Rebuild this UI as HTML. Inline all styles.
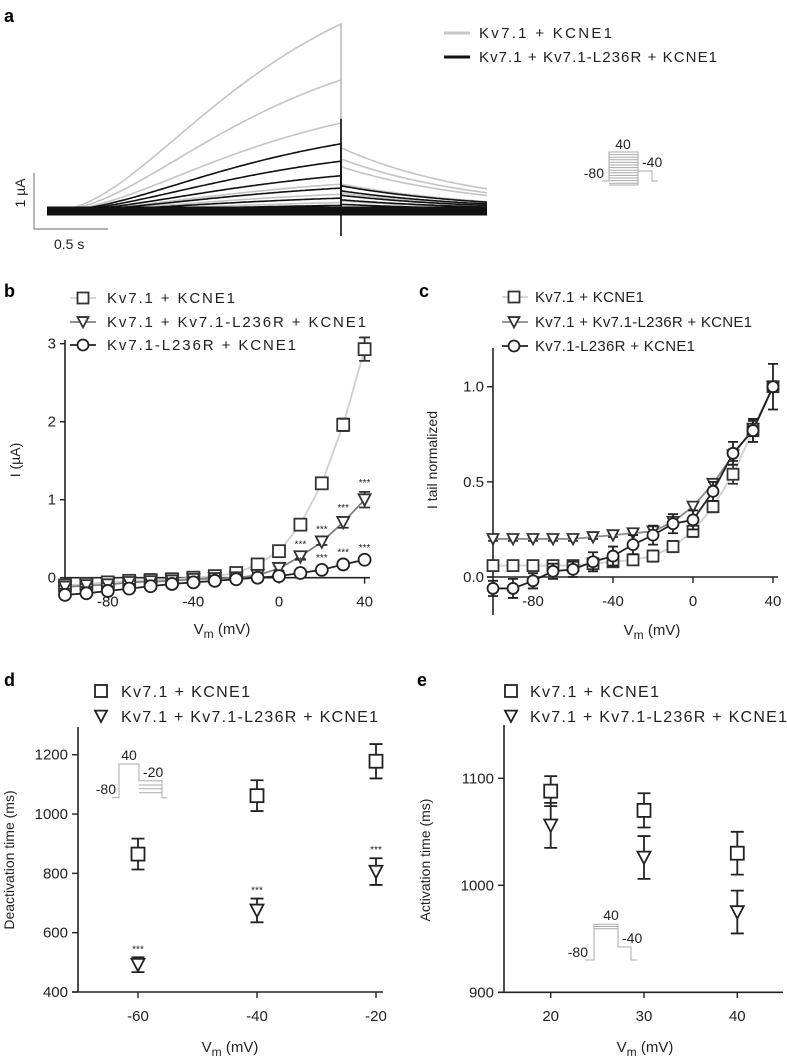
<!DOCTYPE html>
<html><head><meta charset="utf-8"><style>
html,body{margin:0;padding:0;background:#fff;}
svg{display:block;font-family:"Liberation Sans",sans-serif;}
</style></head><body>
<svg id="fig" width="787" height="1059" viewBox="0 0 787 1059" xmlns="http://www.w3.org/2000/svg">
<rect width="787" height="1059" fill="#fff"/>
<g font-weight="bold" font-size="18" fill="#000">
<text x="4" y="22">a</text>
<text x="4" y="297">b</text>
<text x="419" y="297">c</text>
<text x="4" y="686">d</text>
<text x="417" y="686">e</text>
</g>
<g font-size="15" fill="#222">
<line x1="444" y1="33" x2="470" y2="33" stroke="#c8c8c8" stroke-width="3"/>
<text x="479" y="38" textLength="133">Kv7.1 + KCNE1</text>
<line x1="444" y1="57" x2="470" y2="57" stroke="#111" stroke-width="3"/>
<text x="479" y="62" textLength="238">Kv7.1 + Kv7.1-L236R + KCNE1</text>
</g>
<g stroke="#888" stroke-width="1.2" fill="none">
<polyline points="34,173 34,229 108,229"/>
</g>
<text x="25" y="193" font-size="14" fill="#222" transform="rotate(-90 25 193)" text-anchor="middle">1 µA</text>
<text x="54" y="249" font-size="14" fill="#222">0.5 s</text>
<g id="protoA" stroke="#aaa" stroke-width="1" fill="none"></g>
<g font-size="14" fill="#222">
<text x="623" y="149" text-anchor="middle">40</text>
<text x="604" y="178" text-anchor="end">-80</text>
<text x="642" y="167">-40</text>
</g>
<g id="traces"></g>
<g id="pb"></g>
<g id="pc"></g>
<g id="pd"></g>
<g id="pe"></g>
</svg>
<script>
// ---------- data ----------
const traceGrayPeak = [3.34, 2.34, 1.57, 0.48, 0.30, 0.15, 0.06];
const traceGrayTail = [1.13, 0.93, 0.79, 0.48, 0.32, 0.18, 0.08];
const traceBlackPeak = [1.20, 0.89, 0.63, 0.41, 0.23, 0.10, 0.03];
const traceBlackTail = [0.45, 0.36, 0.28, 0.20, 0.12, 0.06, 0.02];

const ivVolt = [-100,-90,-80,-70,-60,-50,-40,-30,-20,-10,0,10,20,30,40];
const ivWT  = [-0.10,-0.08,-0.06,-0.04,-0.03,-0.02,0.00,0.02,0.06,0.17,0.34,0.68,1.21,1.96,2.93];
const ivWTErr = [0.02,0.02,0.02,0.02,0.02,0.02,0.02,0.02,0.02,0.03,0.04,0.05,0.05,0.08,0.15];
const ivHet = [-0.12,-0.10,-0.09,-0.06,-0.05,-0.04,-0.02,-0.01,0.00,0.03,0.12,0.27,0.46,0.71,1.00];
const ivHetErr = [0.02,0.02,0.02,0.02,0.02,0.02,0.02,0.02,0.02,0.02,0.03,0.04,0.04,0.07,0.10];
const ivMut = [-0.22,-0.20,-0.17,-0.14,-0.11,-0.08,-0.06,-0.04,-0.02,0.00,0.02,0.06,0.10,0.17,0.23];
const ivMutErr = [0.02,0.02,0.02,0.02,0.02,0.02,0.02,0.02,0.02,0.02,0.02,0.02,0.02,0.02,0.03];
const ivStarVolt = [10,20,30,40];
const ivTicksX = [-80,-40,0,40];
const ivTicksY = [0,1,2,3];

const tailWT  = [0.06,0.06,0.06,0.06,0.06,0.07,0.08,0.09,0.11,0.16,0.24,0.37,0.54,0.77,1.00];
const tailWTErr = [0.02,0.02,0.02,0.02,0.02,0.02,0.02,0.02,0.03,0.03,0.03,0.03,0.05,0.06,0.02];
const tailHet = [0.20,0.20,0.20,0.20,0.20,0.21,0.22,0.23,0.24,0.29,0.37,0.49,0.64,0.78,1.00];
const tailHetErr = [0.01,0.01,0.01,0.01,0.01,0.01,0.01,0.01,0.02,0.02,0.02,0.02,0.03,0.04,0.02];
const tailMut = [-0.06,-0.06,-0.02,0.03,0.04,0.08,0.11,0.17,0.22,0.28,0.30,0.45,0.65,0.77,1.00];
const tailMutErr = [0.04,0.05,0.04,0.04,0.04,0.05,0.05,0.05,0.05,0.05,0.05,0.05,0.06,0.06,0.12];
const tailTicksY = [0.0,0.5,1.0];
const tailTickLabels = ["0.0","0.5","1.0"];

const deactVolt = [-60,-40,-20];
const deactWT = [865,1062,1178];
const deactWTErr = [52,52,58];
const deactHet = [492,675,806];
const deactHetErr = [25,40,45];
const deactTicksY = [400,600,800,1000,1200];

const actVolt = [20,30,40];
const actWT = [1088,1070,1030];
const actWTErr = [14,16,20];
const actHet = [1056,1026,975];
const actHetErr = [21,20,20];
const actTicksY = [900,1000,1100];

// ---------- helpers ----------
const NS='http://www.w3.org/2000/svg';
function mk(parent, tag, attrs, name){
  const el=document.createElementNS(NS,tag);
  for(const k in attrs) el.setAttribute(k,attrs[k]);
  
  
  parent.appendChild(el);
  return el;
}
function txt(parent, x, y, s, size, anchor, name, extra){
  const a = {x:x,y:y,'font-size':size,'text-anchor':anchor||'start',fill:'#222'};
  if(extra) for(const k in extra) a[k]=extra[k];
  const t = mk(parent,'text',a,name);
  t.textContent = s;
  return t;
}
function marker(g, type, x, y, s, color, name){
  if(type==='sq') return mk(g,'rect',{x:x-s/2,y:y-s/2,width:s,height:s,fill:'#fff',stroke:color,'stroke-width':1.8},name);
  if(type==='tri') return mk(g,'polygon',{points:`${x-s/2},${y-s*0.45} ${x+s/2},${y-s*0.45} ${x},${y+s*0.5}`,fill:'#fff',stroke:color,'stroke-width':1.8},name);
  return mk(g,'circle',{cx:x,cy:y,r:s/2,fill:'#fff',stroke:color,'stroke-width':1.8},name);
}
function errbar(g, x, y1, y2, cap, color, name){
  const d=`M${x},${y1}V${y2}M${x-cap/2},${y1}H${x+cap/2}M${x-cap/2},${y2}H${x+cap/2}`;
  return mk(g,'path',{d:d,stroke:color,'stroke-width':1.8,fill:'none'},name);
}
function vmLabel(g, x, y, size, name){
  const t = mk(g,'text',{x:x,y:y,'font-size':size,'text-anchor':'middle',fill:'#222'},name);
  t.innerHTML = 'V<tspan font-size="'+(size*0.8)+'" dy="4">m</tspan><tspan dy="-4"> (mV)</tspan>';
}

// ---------- panel a ----------
(function(){
  const g=document.getElementById('traces');
  const base=211, x0=47, xs=341, xe=487, pxA=56;
  function shape(t){ return Math.pow(1-Math.exp(-2.0*t),2.4)/Math.pow(1-Math.exp(-2.0),2.4); }
  function trace(peak, tail, color, w, name){
    let pts=[];
    for(let x=x0;x<=xs;x+=2){ pts.push(x+','+(base-peak*pxA*shape((x-x0)/(xs-x0))).toFixed(1)); }
    pts.push(xs+','+(base-tail*pxA).toFixed(1));
    for(let x=xs;x<=xe;x+=2){ pts.push(x+','+(base-tail*pxA*Math.exp(-1.05*(x-xs)/(xe-xs))).toFixed(1)); }
    mk(g,'polyline',{points:pts.join(' '),fill:'none',stroke:color,'stroke-width':w},name);
  }
  traceGrayPeak.forEach((p,i)=>trace(p,traceGrayTail[i],'#c4c4c4',1.6,'trace-wt-'+i));
  mk(g,'line',{x1:xs,y1:base-traceGrayPeak[0]*pxA,x2:xs,y2:base,stroke:'#c4c4c4','stroke-width':1.6},'step-artifact-wt');
  mk(g,'polyline',{points:`${x0},${base} ${xe},${base}`,stroke:'#111','stroke-width':9,fill:'none'},'noise-band');
  traceBlackPeak.forEach((p,i)=>trace(p,traceBlackTail[i],'#111',1.6,'trace-mut-'+i));
  mk(g,'line',{x1:xs,y1:base-traceBlackPeak[0]*pxA-25,x2:xs,y2:236,stroke:'#111','stroke-width':1.6},'step-artifact-mut');
  const pa=document.getElementById('protoA');
  for(let y=152;y<=185;y+=2.6){ mk(pa,'line',{x1:609,y1:y,x2:638,y2:y},'protocol-a-step'); }
  mk(pa,'polyline',{points:'602,181 609,181 609,152 638,152 638,185 609,185'},'protocol-a-box');
  mk(pa,'polyline',{points:'638,171 652,171 652,181 658,181'},'protocol-a-tail');
})();

// ---------- panel b ----------
(function(){
  const g=document.getElementById('pb');
  const X=v=>279+v*2.14, Y=i=>577.7-i*78;
  mk(g,'line',{x1:65,y1:340,x2:65,y2:590,stroke:'#222','stroke-width':1.6},'y-axis-b');
  mk(g,'line',{x1:65,y1:Y(0),x2:370,y2:Y(0),stroke:'#222','stroke-width':1.6},'x-axis-b');
  ivTicksY.forEach(t=>{ mk(g,'line',{x1:60,y1:Y(t),x2:65,y2:Y(t),stroke:'#222','stroke-width':1.4},'y-tick-b'); txt(g,56,Y(t)+5,String(t),15,'end','y-tick-label-b'); });
  ivTicksX.forEach(t=>{ mk(g,'line',{x1:X(t),y1:Y(0),x2:X(t),y2:Y(0)+6,stroke:'#222','stroke-width':1.4},'x-tick-b'); txt(g,X(t),Y(0)+29,String(t),15,'middle','x-tick-label-b'); });
  txt(g,20,460,'I (µA)',14,'middle','y-axis-title-b',{transform:'rotate(-90 20 460)'});
  vmLabel(g,222,634,15,'x-axis-title-b');
  const series=[[ivWT,ivWTErr,'sq','#cfcfcf','#333','wt'],[ivHet,ivHetErr,'tri','#808080','#333','het'],[ivMut,ivMutErr,'circ','#222','#222','mut']];
  series.forEach(s=>{
    mk(g,'polyline',{points:ivVolt.map((v,i)=>X(v)+','+Y(s[0][i])).join(' '),fill:'none',stroke:s[3],'stroke-width':1.8},'iv-line-'+s[5]);
  });
  series.forEach(s=>{
    ivVolt.forEach((v,i)=>{
      errbar(g,X(v),Y(s[0][i]+s[1][i]),Y(s[0][i]-s[1][i]),11,s[4],'iv-err-'+s[5]);
      marker(g,s[2],X(v),Y(s[0][i]),12,s[4],'iv-point-'+s[5]);
    });
  });
  ivStarVolt.forEach(v=>{
    const i=ivVolt.indexOf(v);
    txt(g,X(v),Y(ivHet[i]+ivHetErr[i])-6,'***',10,'middle','sig-stars-het');
    txt(g,X(v),Y(ivMut[i])-9,'***',10,'middle','sig-stars-mut');
  });
  const ly=[298,322,345], lab=['Kv7.1 + KCNE1','Kv7.1 + Kv7.1-L236R + KCNE1','Kv7.1-L236R + KCNE1'], lw=[128,259,189];
  series.forEach((s,k)=>{
    mk(g,'line',{x1:70,y1:ly[k],x2:96,y2:ly[k],stroke:s[3],'stroke-width':1.8},'legend-line-b');
    marker(g,s[2],83,ly[k],11,s[4],'legend-marker-b');
    txt(g,107,ly[k]+5,lab[k],15,'start','legend-text-b',{textLength:lw[k]});
  });
})();

// ---------- panel c ----------
(function(){
  const g=document.getElementById('pc');
  const X=v=>693+v*2, Y=v=>577-v*190.3;
  mk(g,'line',{x1:493,y1:348,x2:493,y2:615,stroke:'#222','stroke-width':1.6},'y-axis-c');
  mk(g,'line',{x1:487,y1:Y(0),x2:778,y2:Y(0),stroke:'#222','stroke-width':1.6},'x-axis-c');
  tailTicksY.forEach((t,i)=>{ mk(g,'line',{x1:487,y1:Y(t),x2:493,y2:Y(t),stroke:'#222','stroke-width':1.4},'y-tick-c'); txt(g,484,Y(t)+5,tailTickLabels[i],15,'end','y-tick-label-c'); });
  ivTicksX.forEach(t=>{ mk(g,'line',{x1:X(t),y1:Y(0),x2:X(t),y2:Y(0)+6,stroke:'#222','stroke-width':1.4},'x-tick-c'); txt(g,X(t),Y(0)+29,String(t),15,'middle','x-tick-label-c'); });
  txt(g,437,460,'I tail normalized',14,'middle','y-axis-title-c',{transform:'rotate(-90 437 460)'});
  vmLabel(g,652,635,15,'x-axis-title-c');
  const series=[[tailWT,tailWTErr,'sq','#d0d0d0','#333','wt'],[tailHet,tailHetErr,'tri','#8a8a8a','#333','het'],[tailMut,tailMutErr,'circ','#222','#222','mut']];
  series.forEach(s=>{
    mk(g,'polyline',{points:ivVolt.map((v,i)=>X(v)+','+Y(s[0][i])).join(' '),fill:'none',stroke:s[3],'stroke-width':1.8},'tail-line-'+s[5]);
  });
  series.forEach(s=>{
    ivVolt.forEach((v,i)=>{
      errbar(g,X(v),Y(s[0][i]+s[1][i]),Y(s[0][i]-s[1][i]),10,s[4],'tail-err-'+s[5]);
      marker(g,s[2],X(v),Y(s[0][i]),11,s[4],'tail-point-'+s[5]);
    });
  });
  const ly=[297,322,346], lab=['Kv7.1 + KCNE1','Kv7.1 + Kv7.1-L236R + KCNE1','Kv7.1-L236R + KCNE1'], lw=[109,217,160];
  series.forEach((s,k)=>{
    mk(g,'line',{x1:502,y1:ly[k],x2:528,y2:ly[k],stroke:s[3],'stroke-width':1.8},'legend-line-c');
    marker(g,s[2],514,ly[k],11,s[4],'legend-marker-c');
    txt(g,535,ly[k]+5,lab[k],15,'start','legend-text-c',{textLength:lw[k]});
  });
})();

// ---------- panel d ----------
(function(){
  const g=document.getElementById('pd');
  const X=v=>257+(v+40)*5.95, Y=v=>992-(v-400)*0.2966;
  mk(g,'line',{x1:78,y1:727,x2:78,y2:992,stroke:'#222','stroke-width':1.6},'y-axis-d');
  mk(g,'line',{x1:72,y1:992,x2:383,y2:992,stroke:'#222','stroke-width':1.6},'x-axis-d');
  deactTicksY.forEach(t=>{ mk(g,'line',{x1:72,y1:Y(t),x2:78,y2:Y(t),stroke:'#222','stroke-width':1.4},'y-tick-d'); txt(g,68,Y(t)+5,String(t),15,'end','y-tick-label-d'); });
  deactVolt.forEach(t=>{ mk(g,'line',{x1:X(t),y1:992,x2:X(t),y2:998,stroke:'#222','stroke-width':1.4},'x-tick-d'); txt(g,X(t),1021,String(t),15,'middle','x-tick-label-d'); });
  txt(g,14,860,'Deactivation time (ms)',14,'middle','y-axis-title-d',{transform:'rotate(-90 14 860)'});
  vmLabel(g,230,1052,15,'x-axis-title-d');
  deactVolt.forEach((v,i)=>{
    errbar(g,X(v),Y(deactWT[i]+deactWTErr[i]),Y(deactWT[i]-deactWTErr[i]),13,'#222','deact-err-wt');
    marker(g,'sq',X(v),Y(deactWT[i]),13,'#222','deact-point-wt');
    errbar(g,X(v),Y(deactHet[i]+deactHetErr[i]),Y(deactHet[i]-deactHetErr[i]),13,'#222','deact-err-het');
    marker(g,'tri',X(v),Y(deactHet[i]),13,'#222','deact-point-het');
    txt(g,X(v),Y(deactHet[i]+deactHetErr[i])-5,'***',10,'middle','sig-stars-d');
  });
  marker(g,'sq',101,691,12,'#222','legend-marker-d-wt');
  txt(g,121,697,'Kv7.1 + KCNE1',16,'start','legend-text-d-wt',{textLength:129});
  marker(g,'tri',101,716,12,'#222','legend-marker-d-het');
  txt(g,121,722,'Kv7.1 + Kv7.1-L236R + KCNE1',16,'start','legend-text-d-het',{textLength:257});
  const pr=mk(g,'g',{stroke:'#aaa','stroke-width':1,fill:'none'},'protocol-inset-d');
  mk(pr,'polyline',{points:'112,797.7 119,797.7 119,764 139,764 139,780.7 162,780.7 162,797.7 167,797.7'},'protocol-d-main');
  [785,788.7,792.7].forEach(y=>mk(pr,'line',{x1:139,y1:y,x2:162,y2:y},'protocol-d-step'));
  txt(g,129,760,'40',14,'middle','protocol-d-40');
  txt(g,143,777,'-20',14,'start','protocol-d-minus20');
  txt(g,116,794,'-80',14,'end','protocol-d-minus80');
})();

// ---------- panel e ----------
(function(){
  const g=document.getElementById('pe');
  const X=v=>644+(v-30)*9.33, Y=v=>992.3-(v-900)*1.07;
  mk(g,'line',{x1:504,y1:725,x2:504,y2:992.3,stroke:'#222','stroke-width':1.6},'y-axis-e');
  mk(g,'line',{x1:498,y1:992.3,x2:783,y2:992.3,stroke:'#222','stroke-width':1.6},'x-axis-e');
  actTicksY.forEach(t=>{ mk(g,'line',{x1:498,y1:Y(t),x2:504,y2:Y(t),stroke:'#222','stroke-width':1.4},'y-tick-e'); txt(g,494,Y(t)+5,String(t),15,'end','y-tick-label-e'); });
  actVolt.forEach(t=>{ mk(g,'line',{x1:X(t),y1:992.3,x2:X(t),y2:998,stroke:'#222','stroke-width':1.4},'x-tick-e'); txt(g,X(t),1021,String(t),15,'middle','x-tick-label-e'); });
  txt(g,430,860,'Activation time (ms)',14,'middle','y-axis-title-e',{transform:'rotate(-90 430 860)'});
  vmLabel(g,645,1052,15,'x-axis-title-e');
  actVolt.forEach((v,i)=>{
    errbar(g,X(v),Y(actWT[i]+actWTErr[i]),Y(actWT[i]-actWTErr[i]),13,'#222','act-err-wt');
    marker(g,'sq',X(v),Y(actWT[i]),13,'#222','act-point-wt');
    errbar(g,X(v),Y(actHet[i]+actHetErr[i]),Y(actHet[i]-actHetErr[i]),13,'#222','act-err-het');
    marker(g,'tri',X(v),Y(actHet[i]),13,'#222','act-point-het');
  });
  marker(g,'sq',511,691,12,'#222','legend-marker-e-wt');
  txt(g,530,697,'Kv7.1 + KCNE1',16,'start','legend-text-e-wt',{textLength:129});
  marker(g,'tri',511,716,12,'#222','legend-marker-e-het');
  txt(g,530,722,'Kv7.1 + Kv7.1-L236R + KCNE1',16,'start','legend-text-e-het',{textLength:257});
  const pr=mk(g,'g',{stroke:'#aaa','stroke-width':1,fill:'none'},'protocol-inset-e');
  mk(pr,'polyline',{points:'585,960 594,960 594,924.3 618,924.3 618,947 631,947 631,960 637,960'},'protocol-e-main');
  [926.5,928.7].forEach(y=>mk(pr,'line',{x1:594,y1:y,x2:618,y2:y},'protocol-e-step'));
  txt(g,611,920,'40',14,'middle','protocol-e-40');
  txt(g,622,943,'-40',14,'start','protocol-e-minus40');
  txt(g,588,957,'-80',14,'end','protocol-e-minus80');
})();
</script>
</body></html>
